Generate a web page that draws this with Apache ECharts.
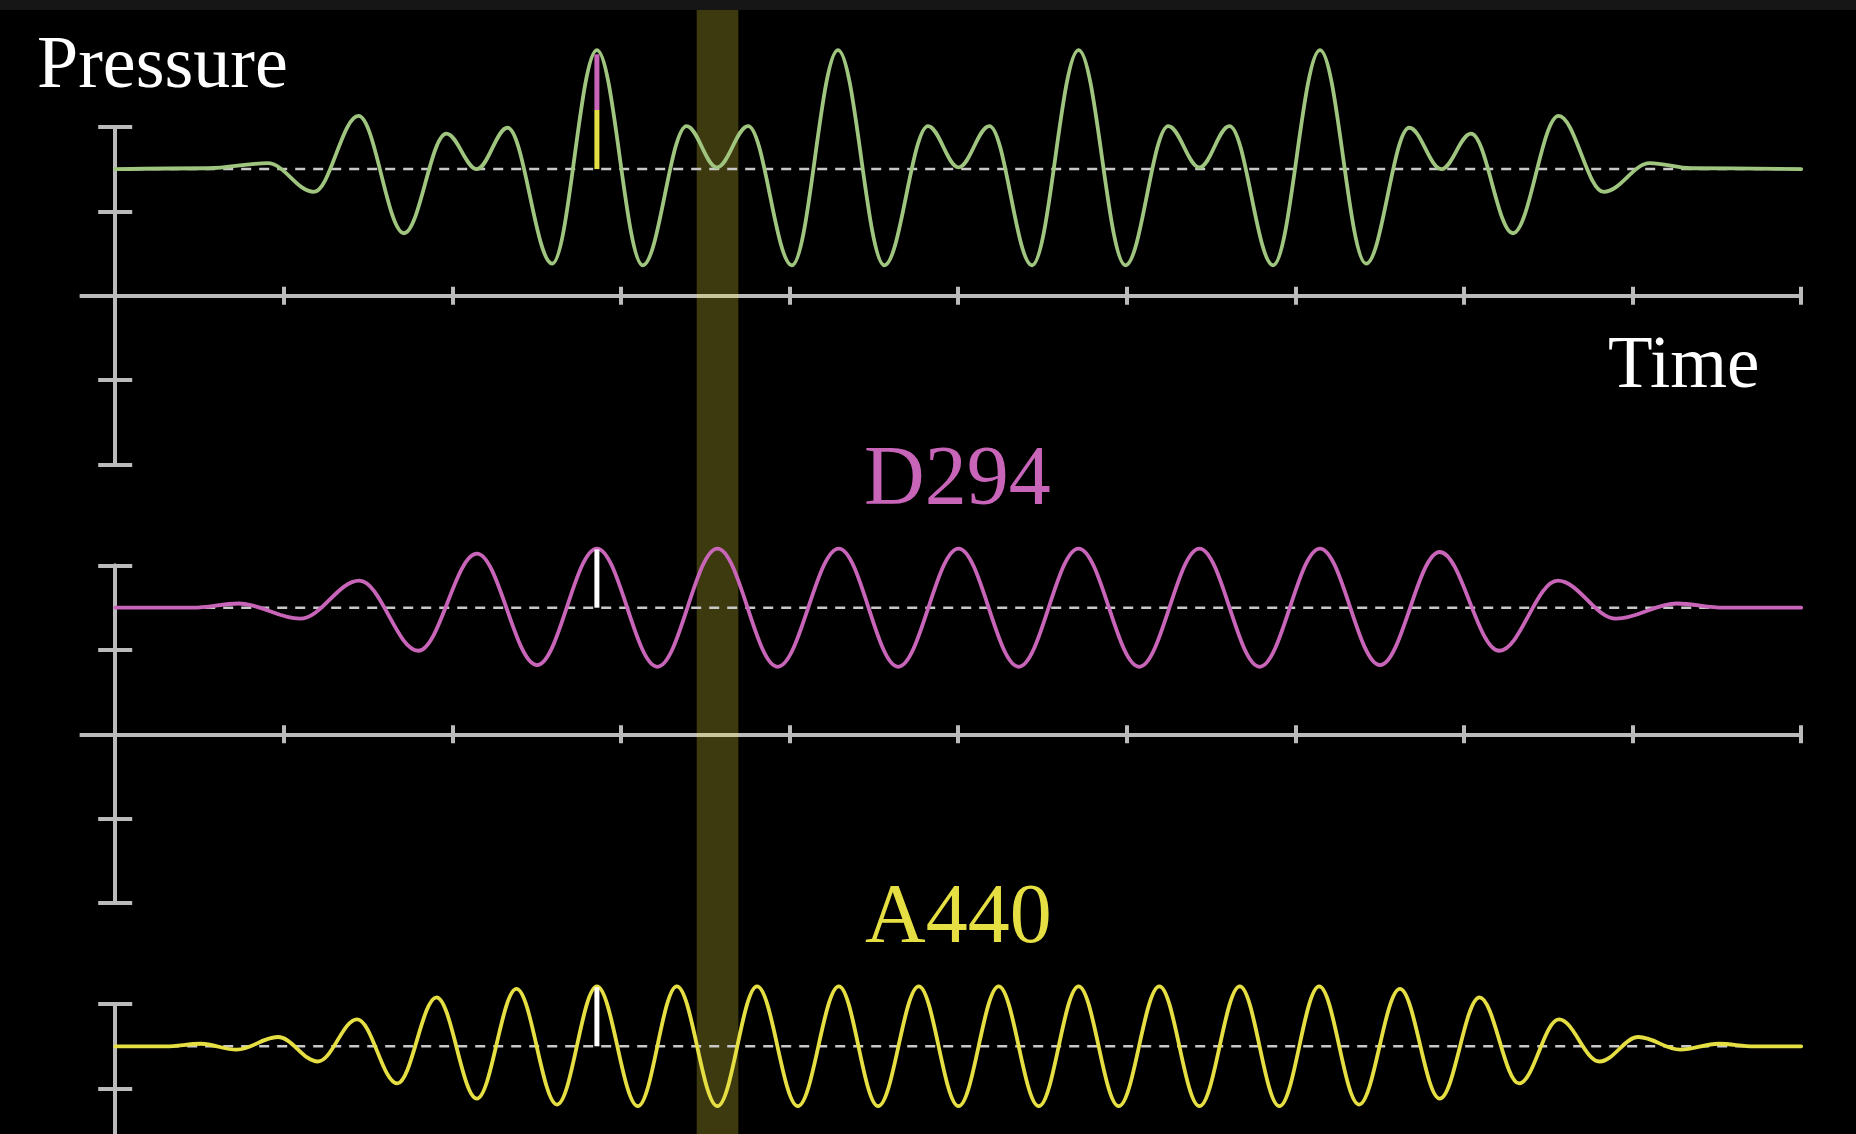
<!DOCTYPE html>
<html>
<head>
<meta charset="utf-8">
<style>
html,body{margin:0;padding:0;background:#000;overflow:hidden;}
#chart{width:1856px;height:1134px;}
</style>
<script src="https://cdn.jsdelivr.net/npm/echarts@6/dist/echarts.min.js"></script>
</head>
<body>
<div id="chart"></div>
<script>
// ---- data (time units = x ticks, pressure units = y ticks) ----
const xTickValues = [1, 2, 3, 4, 5, 6, 7, 8, 9, 10];
const baselineValue = 1.5;

// Sum wave (green)
const greenT = [0, 0.55, 0.905, 1.178, 1.443, 1.713, 1.964, 2.145, 2.327, 2.592, 2.857, 3.129, 3.389, 3.569, 3.754, 4.014, 4.287, 4.562, 4.821, 5.002, 5.185, 5.438, 5.714, 5.992, 6.246, 6.431, 6.609, 6.868, 7.146, 7.419, 7.675, 7.866, 8.042, 8.290, 8.561, 8.829, 9.102, 9.35, 10];
const greenP = [1.5, 1.51, 1.57, 1.23, 2.13, 0.74, 1.92, 1.50, 1.99, 0.38, 2.91, 0.36, 2.01, 1.52, 2.01, 0.36, 2.91, 0.36, 2.01, 1.52, 2.01, 0.36, 2.91, 0.36, 2.01, 1.52, 2.01, 0.36, 2.91, 0.38, 1.99, 1.50, 1.92, 0.74, 2.13, 1.23, 1.57, 1.51, 1.5];

// D294 (magenta)
const pinkT = [0, 0.46, 0.733, 1.096, 1.448, 1.798, 2.145, 2.502, 2.857, 3.216, 3.572, 3.929, 4.292, 4.644, 5.002, 5.359, 5.714, 6.074, 6.431, 6.788, 7.146, 7.502, 7.856, 8.209, 8.556, 8.903, 9.263, 9.54, 10];
const pinkP = [1.5, 1.5, 1.55, 1.37, 1.82, 0.99, 2.14, 0.82, 2.20, 0.80, 2.20, 0.80, 2.20, 0.80, 2.20, 0.80, 2.20, 0.80, 2.20, 0.80, 2.20, 0.82, 2.16, 0.99, 1.82, 1.37, 1.55, 1.5, 1.5];

// A440 (yellow)
const yellowT = [0, 0.30, 0.508, 0.720, 0.964, 1.202, 1.435, 1.673, 1.906, 2.145, 2.380, 2.621, 2.857, 3.100, 3.331, 3.572, 3.807, 4.049, 4.292, 4.525, 4.766, 5.002, 5.240, 5.478, 5.714, 5.952, 6.193, 6.431, 6.670, 6.905, 7.141, 7.377, 7.620, 7.856, 8.092, 8.327, 8.563, 8.804, 9.035, 9.283, 9.511, 9.72, 10];
const yellowP = [1.5, 1.5, 1.53, 1.46, 1.61, 1.32, 1.82, 1.06, 2.08, 0.88, 2.18, 0.81, 2.21, 0.79, 2.21, 0.79, 2.21, 0.79, 2.21, 0.79, 2.21, 0.79, 2.21, 0.79, 2.21, 0.79, 2.21, 0.79, 2.21, 0.79, 2.21, 0.81, 2.18, 0.88, 2.08, 1.06, 1.82, 1.32, 1.61, 1.46, 1.53, 1.5, 1.5];

// Marker bars at one instant
const markerT = 2.857;
const markerSumYellowTop = 2.20;   // top panel: yellow part
const markerSumPinkTop = 2.86;     // top panel: magenta part stacked on yellow
const markerPinkTop = 2.19;        // middle panel
const markerYellowTop = 2.20;      // bottom panel

// Highlighted time window
const bandT = [3.449, 3.696];

const labelTexts = { yTitle: 'Pressure', xTitle: 'Time', pink: 'D294', yellow: 'A440' };

// ---- styling ----
const C_GREEN = '#9FC57F', C_PINK = '#C865B9', C_YELLOW = '#E6DF43', C_AXIS = '#BBBBBB', C_DASH = '#C8C8C8';
const SERIF = '"Liberation Serif", "DejaVu Serif", serif';

const gridLeft = 79.8, gridWidth = 1721.4, panelH = 337.6;
const panelTops = [126.9, 565.5, 1004.1];

const zip = (a, b) => a.map((v, i) => [v, b[i]]);

const grids = [], xAxes = [], yAxes = [], series = [];
panelTops.forEach((top) => {
  grids.push({ left: gridLeft, width: gridWidth, top: top, height: panelH, containLabel: false, outerBoundsMode: 'none' });
});
grids.push({ left: gridLeft, width: gridWidth, top: 10, height: 1124, containLabel: false, outerBoundsMode: 'none' });

panelTops.forEach((_, g) => {
  [false, true].forEach((inside) => {
    xAxes.push({
      type: 'value', gridIndex: g, min: -0.21, max: 10, position: 'bottom', offset: 0,
      axisLine: { show: true, onZero: true, lineStyle: { color: C_AXIS, width: 4, cap: 'butt' } },
      axisTick: { show: true, inside: inside, length: 9, customValues: xTickValues, lineStyle: { color: C_AXIS, width: 4 } },
      axisLabel: { show: false }, splitLine: { show: false }
    });
    yAxes.push({
      type: 'value', gridIndex: g, min: -2, max: 2, interval: 1, position: 'left', offset: 0,
      axisLine: { show: true, onZero: true, lineStyle: { color: C_AXIS, width: 4 } },
      axisTick: { show: true, inside: inside, length: 17, lineStyle: { color: C_AXIS, width: 4 } },
      axisLabel: { show: false }, splitLine: { show: false }
    });
  });
});
// band grid axes (hidden)
xAxes.push({ type: 'value', gridIndex: 3, min: -0.21, max: 10, show: false });
yAxes.push({ type: 'value', gridIndex: 3, min: 0, max: 1, show: false });

const waves = [
  { t: greenT, p: greenP, color: C_GREEN },
  { t: pinkT, p: pinkP, color: C_PINK },
  { t: yellowT, p: yellowP, color: C_YELLOW }
];
waves.forEach((w, g) => {
  series.push({
    type: 'line', xAxisIndex: 2 * g, yAxisIndex: 2 * g, z: 1, silent: true,
    data: [[0, baselineValue], [10, baselineValue]], showSymbol: false, clip: false,
    lineStyle: { color: C_DASH, width: 2.5, type: [10, 8] }
  });
  series.push({
    type: 'line', xAxisIndex: 2 * g, yAxisIndex: 2 * g, z: 3, silent: true,
    data: zip(w.t, w.p), showSymbol: false, clip: false,
    smooth: 0.36, smoothMonotone: 'x',
    lineStyle: { color: w.color, width: 3.8, cap: 'round', join: 'round' }
  });
});

function bar(g, y0, y1, color) {
  series.push({
    type: 'line', xAxisIndex: 2 * g, yAxisIndex: 2 * g, z: 4, silent: true,
    data: [[markerT, y0], [markerT, y1]], showSymbol: false, clip: false,
    lineStyle: { color: color, width: 5, cap: 'butt' }
  });
}
bar(0, baselineValue, markerSumYellowTop, C_YELLOW);
bar(0, markerSumYellowTop, markerSumPinkTop, C_PINK);
bar(1, baselineValue, markerPinkTop, '#FFFFFF');
bar(2, baselineValue, markerYellowTop, '#FFFFFF');

series.push({
  type: 'line', xAxisIndex: 6, yAxisIndex: 6, z: 10, silent: true,
  data: [[bandT[0], 0], [bandT[1], 0]], showSymbol: false, lineStyle: { width: 0, opacity: 0 },
  markArea: { silent: true, itemStyle: { color: 'rgba(255,240,60,0.245)' }, data: [[{ xAxis: bandT[0] }, { xAxis: bandT[1] }]] }
});

const option = {
  backgroundColor: '#000000',
  animation: false,
  grid: grids, xAxis: xAxes, yAxis: yAxes, series: series,
  graphic: [
    { type: 'rect', z: 100, shape: { x: 0, y: 0, width: 1856, height: 10 }, style: { fill: '#161616' } },
    { type: 'text', z: 100, x: 37, y: 31, style: { text: labelTexts.yTitle, font: '74px ' + SERIF, fill: '#FFFFFF', verticalAlign: 'top' } },
    { type: 'text', z: 100, x: 1608, y: 331, style: { text: labelTexts.xTitle, font: '73px ' + SERIF, fill: '#FFFFFF', verticalAlign: 'top' } },
    { type: 'text', z: 100, x: 864, y: 440, style: { text: labelTexts.pink, font: '84px ' + SERIF, fill: C_PINK, verticalAlign: 'top' } },
    { type: 'text', z: 100, x: 865, y: 878, style: { text: labelTexts.yellow, font: '84px ' + SERIF, fill: C_YELLOW, verticalAlign: 'top' } }
  ]
};
const chart = echarts.init(document.getElementById('chart'), null, { renderer: 'canvas' });
chart.setOption(option);
</script>
</body>
</html>
